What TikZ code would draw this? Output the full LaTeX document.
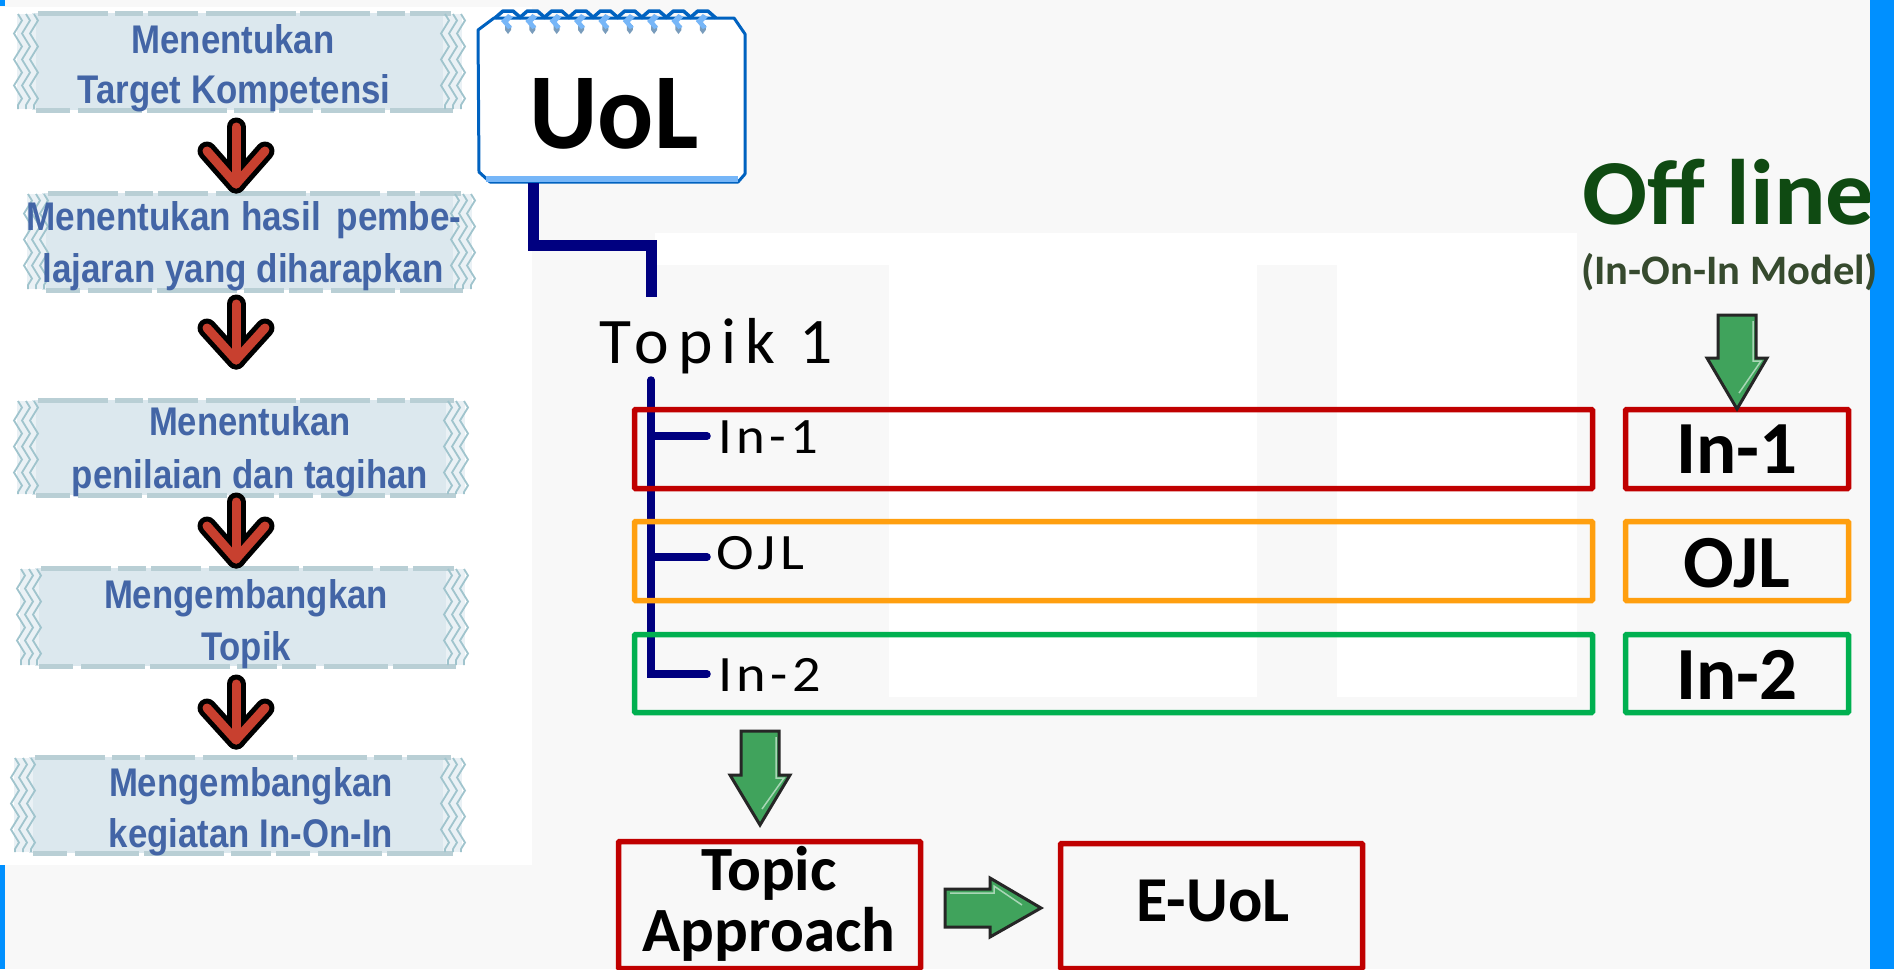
\documentclass[tikz,border=0pt]{standalone}
\usepackage{graphicx}
\usepackage{fontspec}
\usetikzlibrary{decorations.pathmorphing,calc}
\setmainfont{Carlito}
\newfontfamily\spaced[LetterSpace=14]{Carlito}
\newfontfamily\spacedthin[LetterSpace=8]{Carlito}
\newfontfamily\bannerfont{Liberation Sans}
\definecolor{bgrey}{HTML}{F8F8F8}
\definecolor{sidebar}{HTML}{0090FF}
\definecolor{navyln}{HTML}{000080}
\definecolor{redbox}{HTML}{C00000}
\definecolor{orangebox}{HTML}{FF9F0F}
\definecolor{greenbox}{HTML}{00B050}
\definecolor{bannerfill}{HTML}{DCE8EE}
\definecolor{bannerline}{HTML}{B9CFD5}
\definecolor{bannerside}{HTML}{A0C4CD}
\definecolor{bannertext}{HTML}{4365A6}
\definecolor{arrowred}{HTML}{C8402F}
\definecolor{arrowgreen}{HTML}{40A35C}
\definecolor{uolblue}{HTML}{0062C0}
\definecolor{uollight}{HTML}{76B6F8}
\definecolor{offgreen}{HTML}{0F4A12}
\definecolor{offmodel}{HTML}{364A2E}
\newcommand{\fitw}[2]{\resizebox{#1pt}{\height}{#2}}
\tikzset{
  x=1pt,y=-1pt,
  every node/.style={inner sep=0pt,outer sep=0pt},
  rowbox/.style={draw,line width=5.5pt,rounded corners=1pt,anchor=north west},
  boldlabel/.style={anchor=base,font=\bfseries\fontsize{75}{75}\selectfont,text=black},
  thinlabel/.style={anchor=base west,font=\spacedthin\fontsize{51}{51}\selectfont,text=black},
  bannerlabel/.style={anchor=base,font=\bannerfont\bfseries\fontsize{40}{40}\selectfont,text=bannertext},
  tree/.style={draw=navyln,line width=7.5pt,line cap=round,line join=miter},
  greenblock/.style={fill=arrowgreen,draw=black!85,line width=3pt,line join=miter},
  redv/.style={line cap=round,line join=round},
}
\newcommand{\banner}[4]{%
  \fill[bannerfill] ({#1+20},{#2+5}) rectangle ({#3-20},{#4-5});
  \fill[bannerfill!60!white] ({#1+5},{#2+6}) rectangle ({#1+24},{#4-6});
  \fill[bannerfill!60!white] ({#3-24},{#2+6}) rectangle ({#3-5},{#4-6});
  \draw[bannerline,line width=5pt,dash pattern=on 70pt off 7pt on 28pt off 5pt on 50pt off 8pt on 90pt off 4pt]
     ({#1+26},{#2+5}) -- ({#3-16},{#2+5});
  \draw[bannerline,line width=5pt,dash pattern=on 34pt off 8pt on 64pt off 5pt on 80pt off 7pt on 40pt off 5pt]
     ({#1+24},{#4-5}) -- ({#3-14},{#4-5});
  \foreach \dx in {6,14,22}{
    \draw[bannerside,line width=1.8pt,decorate,decoration={zigzag,segment length=26pt,amplitude=4pt}]
       ({#1+\dx},{#2+6}) -- ({#1+\dx},{#4-6});
    \draw[bannerside,line width=1.8pt,decorate,decoration={zigzag,segment length=26pt,amplitude=4pt}]
       ({#3-\dx},{#2+6}) -- ({#3-\dx},{#4-6});
  }
}
\newcommand{\redarrow}[3]{% x, top, tip
  \foreach \c/\w in {black/19pt,arrowred/9pt}{
    \draw[redv,\c,line width=\w] (#1,{#2+9}) -- (#1,{#3-13});
    \draw[redv,\c,line width=\w] ({#1-29},{#2+33}) -- (#1,{#3-13}) -- ({#1+29},{#2+33});
  }
}
\newcommand{\gdown}[6]{% cx, top, headY, tip, halfshaft, halfhead
  \draw[greenblock] ({#1-#5},#2) -- ({#1+#5},#2) -- ({#1+#5},#3) -- ({#1+#6},#3) -- (#1,#4)
     -- ({#1-#6},#3) -- ({#1-#5},#3) -- cycle;
  \draw[white!55!arrowgreen,line width=1.5pt] ({#1+#5-3},{#2+6}) -- ({#1+#5-3},{#3+3}) -- ({#1+#6-6},{#3+3}) -- ({#1+2},{#4-16});
}
\begin{document}
\begin{tikzpicture}
\useasboundingbox (0,0) rectangle (1894,969);
% backgrounds
\fill[bgrey] (0,0) rectangle (1894,969);
\fill[white] (0,7) rectangle (532,865);
\fill[white] (655,233) rectangle (1577,265);
\fill[white] (889,265) rectangle (1257,697);
\fill[white] (1337,265) rectangle (1577,697);
\fill[sidebar] (0,0) rectangle (5,6);
\fill[sidebar] (0,865) rectangle (5,969);

% left column banners
\banner{12}{8}{467}{115}
\banner{22}{188}{477}{295}
\banner{12}{395}{470}{500}
\banner{15}{563}{470}{671}
\banner{9}{752}{467}{858}
\node[bannerlabel] (b1a) at (233,53) {\fitw{203}{Menentukan}};
\node[bannerlabel] (b1b) at (234,103) {\fitw{313}{Target Kompetensi}};
\node[bannerlabel] (b2a) at (244,230) {\fitw{435}{Menentukan hasil\, pembe-}};
\node[bannerlabel] (b2b) at (243,282) {\fitw{401}{lajaran yang diharapkan}};
\node[bannerlabel] (b3a) at (250,435) {\fitw{202}{Menentukan}};
\node[bannerlabel] (b3b) at (250,488) {\fitw{356}{penilaian dan tagihan}};
\node[bannerlabel] (b4a) at (246,608) {\fitw{284}{Mengembangkan}};
\node[bannerlabel] (b4b) at (246,660) {\fitw{90}{Topik}};
\node[bannerlabel] (b5a) at (251,796) {\fitw{284}{Mengembangkan}};
\node[bannerlabel] (b5b) at (251,847) {\fitw{284}{kegiatan In-On-In}};
\redarrow{236}{118}{197}
\redarrow{236}{295}{373}
\redarrow{236}{493}{572}
\redarrow{236}{675}{753}

% UoL card
\fill[white] (478,30) -- (494,18) -- (734,18) -- (746,34) -- (746,174) -- (738,182) -- (490,182) -- (480,172) -- cycle;
\draw[uolblue,line width=3pt,line join=round] (478,30) -- (494,18) -- (734,18) -- (745,34) -- (745,174) -- (738,182) -- (490,182) -- (479,172) -- cycle;
\draw[uollight,line width=6.5pt] (486,179) -- (738,179);
\foreach \i in {0,...,8}{
  \pgfmathsetmacro{\cx}{508+24.35*\i}
  \draw[uolblue,line width=3.5pt,line join=round] ({\cx-13},18) -- ({\cx-5},11) -- ({\cx+5},11) -- ({\cx+13},18);
  \fill[uolblue!50!gray!70!white] ({\cx-3},25) -- ({\cx+3},25) -- ({\cx+3},30) -- (\cx,34) -- ({\cx-3},30) -- cycle;
  \fill[uollight] ({\cx-7},21) -- (\cx,14) -- ({\cx+5},17) -- ({\cx},22) -- ({\cx+4},27) -- (\cx,29) -- cycle;
}
\node[boldlabel,font=\bfseries\fontsize{108}{108}\selectfont] (uol) at (614,148) {\fitw{169}{UoL}};

% connectors
\coordinate (uolout) at (533,183);
\coordinate (topikin) at (651,297);
\draw[navyln,line width=11pt,line join=miter] (uolout) -- (uolout |- 0,245) -- (topikin |- 0,245) -- (topikin);
\node[anchor=base west,font=\spaced\fontsize{65}{65}\selectfont,text=black] (topik) at (599,363) {\fitw{234}{Topik 1}};
\coordinate (trunk) at (651,380);
\coordinate (br1) at (707,436);
\coordinate (br2) at (707,557);
\coordinate (br3) at (707,674);
\draw[tree] (trunk) -- (trunk |- br3) -- (br3);
\draw[tree] (trunk |- br1) -- (br1);
\draw[tree] (trunk |- br2) -- (br2);

% rows
\node[rowbox,draw=redbox,minimum width=958pt,minimum height=79pt] (row1) at (634.5,409.5) {};
\node[rowbox,draw=orangebox,minimum width=958pt,minimum height=79pt] (row2) at (634.5,521.5) {};
\node[rowbox,draw=greenbox,minimum width=958pt,minimum height=78pt] (row3) at (634.5,634.5) {};
\node[rowbox,draw=redbox,minimum width=223pt,minimum height=79pt] (off1) at (1625.5,409.5) {};
\node[rowbox,draw=orangebox,minimum width=223pt,minimum height=79pt] (off2) at (1625.5,521.5) {};
\node[rowbox,draw=greenbox,minimum width=223pt,minimum height=78pt] (off3) at (1625.5,634.5) {};
\node[thinlabel] (lin1) at (718,453) {\fitw{100}{In-1}};
\node[thinlabel] (lojl) at (716,569) {\fitw{88}{OJL}};
\node[thinlabel] (lin2) at (718,691) {\fitw{103}{In-2}};
\node[boldlabel] (rin1) at (1737,473) {In-1};
\node[boldlabel] (rojl) at (1737,587) {OJL};
\node[boldlabel] (rin2) at (1737,699) {In-2};

% bottom boxes
\node[rowbox,draw=redbox,minimum width=302pt,minimum height=127pt] (topic) at (618.5,841.5) {};
\node[rowbox,draw=redbox,minimum width=302pt,minimum height=125pt] (euol) at (1060.5,843.5) {};
\node[anchor=base,font=\bfseries\fontsize{63}{63}\selectfont,text=black] (t1) at (769,890) {Topic};
\node[anchor=base,font=\bfseries\fontsize{63}{63}\selectfont,text=black] (t2) at (769,951) {Approach};
\node[anchor=base,font=\bfseries\fontsize{64}{64}\selectfont,text=black] (e1) at (1213,921) {E-UoL};
\gdown{760}{731}{775}{825}{19}{30}
\gdown{1737}{315}{358}{409}{19}{30}
\draw[greenblock] (945,889) -- (990,889) -- (990,878) -- (1041,908) -- (990,937) -- (990,927) -- (945,927) -- cycle;
\draw[white!55!arrowgreen,line width=1.5pt] (950,893) -- (994,893) -- (994,886) -- (1022,905);

% off line heading
\node[anchor=base west,font=\bfseries\fontsize{93}{93}\selectfont,text=offgreen] (off) at (1582,224) {\fitw{292}{Off line}};
\fill[sidebar] (1870,0) rectangle (1894,969);
\node[anchor=base west,font=\bfseries\fontsize{42}{42}\selectfont,text=offmodel] (model) at (1581,284) {\fitw{297}{(In-On-In Model)}};
\end{tikzpicture}
\end{document}
